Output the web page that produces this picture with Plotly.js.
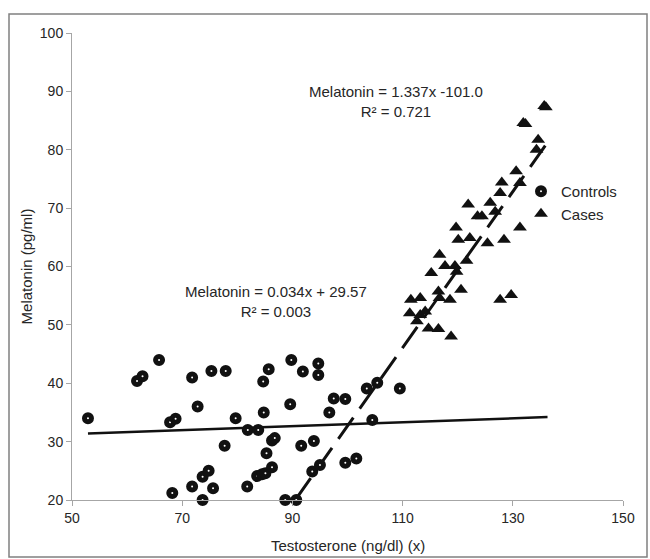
<!DOCTYPE html>
<html>
<head>
<meta charset="utf-8">
<script src="https://cdn.plot.ly/plotly-3.0.1.min.js"></script>
<style>
  html, body { margin: 0; padding: 0; background: #ffffff; }
  #chart { width: 650px; height: 559px; }
</style>
</head>
<body>
<div id="chart"></div>
<script>
// Controls (circles)
var controlsX = [52.9, 61.8, 62.8, 65.8, 67.8, 68.8, 68.2, 71.8, 71.8, 72.8,
                 73.7, 73.7, 74.8, 75.3, 75.6, 77.7, 77.9, 79.7, 81.8, 81.9,
                 83.8, 83.6, 84.5, 85.1, 84.8, 84.7, 85.7, 85.3, 86.3, 86.8,
                 86.3, 88.7, 90.7, 89.6, 89.8, 91.9, 91.6, 93.9, 93.6, 95.0,
                 94.7, 94.7, 96.7, 97.5, 99.6, 99.6, 101.6, 103.5, 105.4, 109.5,
                 104.5];
var controlsY = [34.0, 40.4, 41.2, 44.0, 33.3, 33.9, 21.2, 41.0, 22.3, 36.0,
                 24.0, 20.0, 25.0, 42.1, 22.0, 29.3, 42.1, 34.0, 22.3, 32.0,
                 32.0, 24.1, 24.4, 24.6, 35.0, 40.3, 42.4, 28.0, 30.2, 30.6,
                 25.6, 20.0, 20.0, 36.4, 44.0, 42.0, 29.3, 30.1, 24.9, 26.0,
                 43.4, 41.4, 35.0, 37.4, 37.3, 26.4, 27.1, 39.1, 40.1, 39.1,
                 33.7];

// Cases (triangles)
var casesX = [111.3, 111.5, 112.6, 113.2, 113.2, 114.1, 114.7, 115.2, 116.5, 116.5,
              116.7, 116.7, 117.7, 118.6, 118.8, 119.5, 119.8, 120.6, 121.6, 119.7,
              120.1, 122.2, 121.9, 123.6, 124.4, 125.4, 125.9, 126.8, 127.7, 128.4,
              127.7, 129.7, 128.0, 131.3, 130.6, 131.3, 134.3, 134.6, 131.9, 132.3,
              135.7, 136.0];
var casesY = [52.0, 54.3, 50.6, 54.6, 51.7, 52.3, 49.4, 58.9, 55.7, 49.3,
              54.6, 62.0, 60.1, 54.3, 48.0, 60.1, 59.1, 56.0, 61.0, 66.7,
              64.6, 64.9, 70.6, 68.6, 68.6, 64.0, 70.9, 69.4, 72.6, 64.6,
              54.3, 55.1, 74.4, 74.3, 76.3, 66.7, 80.0, 81.7, 84.6, 84.4,
              87.5, 87.3];

// Trend line end points
var controlsTrendX = [52.9, 136.3];
var controlsTrendY = [31.4, 34.2];
var casesTrendX = [90.6, 137.0];
var casesTrendY = [20.1, 82.2];

// Axis ticks
var xTicks = [50, 70, 90, 110, 130, 150];
var yTicks = [20, 30, 40, 50, 60, 70, 80, 90, 100];

var FONT = 'Liberation Sans, Arial, sans-serif';
var TXT = '#262626';
var AX = '#a6a6a6';

var traces = [
  {
    x: controlsTrendX, y: controlsTrendY, mode: 'lines', type: 'scatter',
    line: {color: '#111111', width: 2.5}, showlegend: false, hoverinfo: 'skip'
  },
  {
    x: casesTrendX, y: casesTrendY, mode: 'lines', type: 'scatter',
    line: {color: '#111111', width: 3, dash: '26px,11px'}, showlegend: false, hoverinfo: 'skip'
  },
  {
    x: controlsX, y: controlsY, mode: 'markers', type: 'scatter', name: 'Controls',
    cliponaxis: false,
    marker: {symbol: 'circle', size: 7, color: '#ffffff', line: {color: '#111111', width: 5}}
  },
  {
    x: casesX, y: casesY, mode: 'markers', type: 'scatter', name: 'Cases',
    cliponaxis: false,
    marker: {symbol: 'triangle-up', size: 12, color: '#111111', line: {width: 0}}
  }
];

var plotL = 72, plotR = 623, plotT = 33, plotB = 500;
var pw = plotR - plotL, ph = plotB - plotT;

var layout = {
  width: 650, height: 559,
  margin: {l: plotL, r: 650 - plotR, t: plotT, b: 559 - plotB, pad: 0},
  paper_bgcolor: '#ffffff', plot_bgcolor: '#ffffff',
  font: {family: FONT, color: TXT, size: 14},
  showlegend: true,
  legend: {
    x: (521 - plotL) / pw, y: (plotB - 175) / ph, xanchor: 'left', yanchor: 'top',
    font: {family: FONT, size: 15, color: TXT},
    bgcolor: 'rgba(0,0,0,0)', borderwidth: 0, itemwidth: 30
  },
  xaxis: {
    range: [50, 150], tickvals: xTicks, ticktext: xTicks.map(String),
    showline: true, linecolor: AX, linewidth: 1, mirror: false,
    ticks: 'outside', ticklen: 5, tickcolor: AX, tickwidth: 1,
    showgrid: false, zeroline: false, automargin: false,
    tickfont: {family: FONT, size: 14, color: TXT}
  },
  yaxis: {
    range: [20, 100], tickvals: yTicks, ticktext: yTicks.map(String),
    showline: true, linecolor: AX, linewidth: 1, mirror: false,
    ticks: 'outside', ticklen: 5, tickcolor: AX, tickwidth: 1,
    showgrid: false, zeroline: false, automargin: false,
    tickfont: {family: FONT, size: 14, color: TXT},
    title: {text: 'Melatonin (pg/ml)', font: {family: FONT, size: 15, color: TXT}}
  },
  annotations: [
    {
      x: 108.8, y: 88.2, xref: 'x', yref: 'y', showarrow: false, align: 'center',
      text: 'Melatonin = 1.337x -101.0<br>R² = 0.721',
      font: {family: FONT, size: 15, color: TXT}
    },
    {
      x: 87.0, y: 54.0, xref: 'x', yref: 'y', showarrow: false, align: 'center',
      text: 'Melatonin = 0.034x + 29.57<br>R² = 0.003',
      font: {family: FONT, size: 15, color: TXT}
    },
    {
      x: 0.5, y: (plotB - 545) / ph, xref: 'paper', yref: 'paper', showarrow: false,
      xanchor: 'center', yanchor: 'middle',
      text: 'Testosterone (ng/dl) (x)',
      font: {family: FONT, size: 15, color: TXT}
    }
  ],
  shapes: [
    {
      type: 'rect', xref: 'paper', yref: 'paper', layer: 'below',
      x0: (9 - plotL) / pw, x1: (647 - plotL) / pw,
      y0: (plotB - 557) / ph, y1: (plotB - 14) / ph,
      line: {color: '#808080', width: 1.5}, fillcolor: 'rgba(0,0,0,0)'
    }
  ]
};

Plotly.newPlot('chart', traces, layout, {displayModeBar: false, staticPlot: true});
</script>
</body>
</html>
